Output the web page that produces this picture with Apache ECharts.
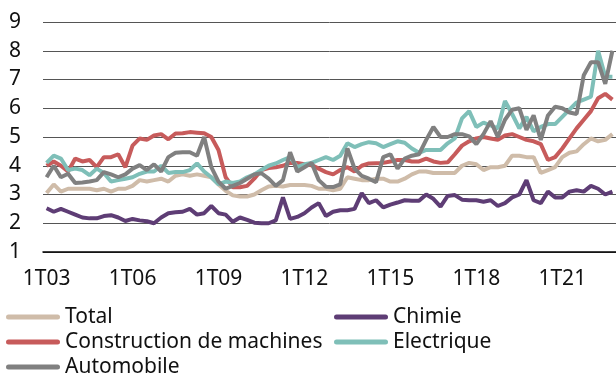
<!DOCTYPE html>
<html>
<head>
<meta charset="utf-8">
<script src="https://cdn.jsdelivr.net/npm/echarts@6/dist/echarts.min.js"></script>
<style>
  html, body { margin: 0; padding: 0; background: #fff; }
  #chart { width: 616px; height: 376px; }
</style>
</head>
<body>
<div id="chart"></div>
<script>
// trimestres 1T03 .. 4T22
let quarters = [];
for (let y = 2003; y <= 2022; y++) {
    for (let q = 1; q <= 4; q++) {
        quarters.push(q + "T" + String(y).slice(2));
    }
}

let total = [
    3.05, 3.35, 3.1, 3.2, 3.2, 3.2, 3.2, 3.15, 3.2, 3.1, 3.2, 3.2, 3.3, 3.5, 3.45, 3.5,
    3.55, 3.45, 3.65, 3.7, 3.65, 3.7, 3.65, 3.6, 3.35, 3.13, 2.97, 2.93, 2.93, 3.0, 3.15, 3.28,
    3.3, 3.28, 3.33, 3.33, 3.33, 3.3, 3.2, 3.2, 3.15, 3.2, 3.6, 3.55, 3.5, 3.5, 3.55, 3.55,
    3.45, 3.45, 3.55, 3.7, 3.8, 3.8, 3.75, 3.75, 3.75, 3.75, 4.0, 4.1, 4.05, 3.85, 3.95, 3.95,
    4.0, 4.35, 4.35, 4.3, 4.3, 3.75, 3.85, 3.95, 4.3, 4.45, 4.5, 4.75, 4.95, 4.85, 4.9, 5.1
];
let chimie = [
    2.52, 2.4, 2.5, 2.4, 2.3, 2.2, 2.17, 2.17, 2.25, 2.28, 2.2, 2.08, 2.15, 2.1, 2.07, 2.0,
    2.2, 2.35, 2.38, 2.4, 2.5, 2.3, 2.35, 2.6, 2.35, 2.3, 2.05, 2.2, 2.12, 2.02, 2.0, 2.0,
    2.1, 2.9, 2.15, 2.22, 2.35, 2.55, 2.7, 2.25, 2.4, 2.45, 2.45, 2.5, 3.05, 2.7, 2.8, 2.55,
    2.65, 2.72, 2.8, 2.78, 2.78, 3.0, 2.85, 2.58, 2.95, 2.98, 2.82, 2.8, 2.8, 2.75, 2.8, 2.6,
    2.7, 2.9, 3.0, 3.5, 2.8, 2.7, 3.1, 2.9, 2.9, 3.1, 3.15, 3.1, 3.3, 3.2, 3.0, 3.1
];
let machines = [
    4.0, 4.15, 4.0, 3.8, 4.25, 4.15, 4.2, 3.95, 4.3, 4.3, 4.4, 3.95, 4.7, 4.95, 4.9, 5.05,
    5.1, 4.92, 5.12, 5.13, 5.17, 5.15, 5.13, 5.0, 4.55, 3.6, 3.25, 3.25, 3.3, 3.55, 3.85, 3.92,
    3.95, 4.0, 4.1, 4.1, 4.05, 4.02, 3.9, 3.78, 3.7, 3.85, 3.95, 3.8, 4.0, 4.08, 4.09, 4.1,
    4.15, 4.2, 4.2, 4.15, 4.15, 4.25, 4.15, 4.1, 4.12, 4.4, 4.7, 4.85, 4.95, 5.0, 4.95, 4.9,
    5.05, 5.1, 5.0, 4.9, 4.85, 4.75, 4.2, 4.3, 4.6, 4.95, 5.3, 5.6, 5.9, 6.35, 6.5, 6.3
];
let electrique = [
    4.1, 4.35, 4.25, 3.85, 3.9, 3.85, 3.67, 3.9, 3.75, 3.45, 3.5, 3.55, 3.6, 3.72, 3.8, 3.8,
    4.0, 3.75, 3.78, 3.78, 3.85, 4.08, 3.8, 3.6, 3.35, 3.45, 3.4, 3.45, 3.6, 3.7, 3.85, 4.0,
    4.08, 4.2, 4.3, 3.95, 4.05, 4.1, 4.2, 4.3, 4.2, 4.35, 4.78, 4.65, 4.75, 4.82, 4.78, 4.65,
    4.75, 4.85, 4.8, 4.6, 4.45, 4.55, 4.55, 4.55, 4.78, 4.95, 5.65, 5.9, 5.35, 5.5, 5.4, 5.3,
    6.25, 5.8, 5.3, 5.7, 5.2, 5.35, 5.45, 5.45, 5.7, 5.95, 6.2, 6.3, 6.4, 8.0, 7.1, 7.1
];
let automobile = [
    3.6, 4.0, 3.6, 3.72, 3.4, 3.42, 3.45, 3.5, 3.78, 3.7, 3.6, 3.7, 3.9, 4.02, 3.85, 4.05,
    3.8, 4.3, 4.45, 4.47, 4.47, 4.35, 5.0, 3.95, 3.45, 3.2, 3.3, 3.4, 3.55, 3.7, 3.74, 3.55,
    3.3, 3.5, 4.47, 3.8, 3.95, 4.1, 3.5, 3.27, 3.26, 3.35, 4.6, 3.9, 3.65, 3.55, 3.43, 4.3,
    4.4, 3.9, 4.25, 4.35, 4.4, 4.9, 5.35, 5.0, 5.0, 5.1, 5.1, 5.02, 4.75, 5.1, 5.55, 5.0,
    5.6, 5.95, 6.0, 5.25, 5.75, 4.9, 5.75, 6.05, 6.0, 5.85, 5.8, 7.15, 7.6, 7.6, 6.85, 8.0
];

let names = ["Total", "Chimie", "Construction de machines", "Electrique", "Automobile"];
let colors = ["#cfbca9", "#5e3d75", "#c75b5b", "#7fbfb8", "#808080"];
let values = [total, chimie, machines, electrique, automobile];

let chart = echarts.init(document.getElementById("chart"));
let font = "'Noto Sans', sans-serif";
let capsule = "path://M2.5,0H51.5A2.5,2.5,0,0,1,51.5,5H2.5A2.5,2.5,0,0,1,2.5,0Z";

// une légende par entrée : deux colonnes, trois lignes
let legendPos = [[6, 317], [334, 317], [6, 342], [334, 342], [6, 367]];
let legends = names.map((n, k) => ({
    data: [n],
    left: legendPos[k][0],
    top: legendPos[k][1] - 12,
    padding: 0,
    itemWidth: 54,
    itemHeight: 5,
    icon: capsule,
    textStyle: { fontFamily: font, fontSize: 21, color: "#111", lineHeight: 24 }
}));

let option = {
    animation: false,
    grid: { left: 43, top: 22, width: 574, height: 230 },
    legend: legends,
    xAxis: {
        type: "category",
        data: quarters,
        boundaryGap: true,
        axisLine: { lineStyle: { color: "#000", width: 1.5 } },
        axisTick: {
            interval: function (i) { return i % 4 === 2; },
            length: 4,
            lineStyle: { color: "#000", width: 1.5 }
        },
        axisLabel: {
            interval: function (i) { return i % 12 === 0; },
            margin: 17,
            fontFamily: font,
            fontSize: 21,
            color: "#111"
        }
    },
    yAxis: {
        type: "value",
        min: 1,
        max: 9,
        interval: 1,
        axisLine: { show: false },
        axisTick: { show: false },
        axisLabel: {
            margin: 28,
            align: "center",
            fontFamily: font,
            fontSize: 21,
            color: "#111"
        },
        splitLine: { lineStyle: { color: "#555", width: 1 } }
    },
    series: names.map((n, k) => ({
        name: n,
        type: "line",
        data: values[k],
        symbol: "none",
        color: colors[k],
        lineStyle: { width: 4, color: colors[k] }
    }))
};
chart.setOption(option);
</script>
</body>
</html>
